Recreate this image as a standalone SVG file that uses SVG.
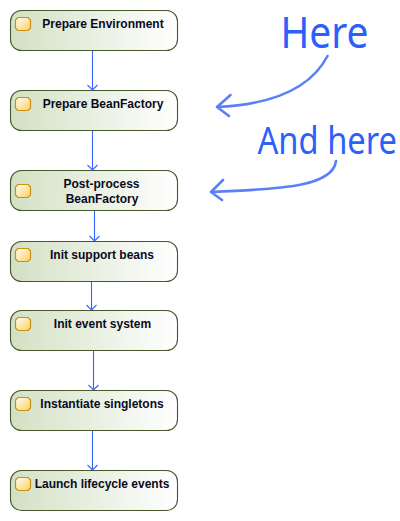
<svg xmlns="http://www.w3.org/2000/svg" width="400" height="521" viewBox="0 0 400 521">
<style>
.box{fill:url(#g);stroke:#46582c;stroke-width:1.1}
.ic{fill:url(#y);stroke:#c8920f;stroke-width:1.2}
.t{font:bold 12px "Liberation Sans",Arial,sans-serif;fill:#0a0a1e;text-anchor:middle}
.c{stroke:#3366ff;stroke-width:1.1;fill:none}
.h{font-family:"Noto Sans","Open Sans",sans-serif;fill:#2c60fa}
.s{stroke:#5a80f8;stroke-width:2.6;fill:none;stroke-linecap:round;stroke-linejoin:round}
</style>
<defs>
<linearGradient id="g" x1="0" x2="1" y1="0" y2="0"><stop offset="0" stop-color="#d3e0c4"/><stop offset="1" stop-color="#ffffff"/></linearGradient>
<linearGradient id="y" x1="0" x2="1" y1="0" y2="1"><stop offset="0" stop-color="#fffef5"/><stop offset="1" stop-color="#fdd063"/></linearGradient>
</defs>
<g id="connectors">
<path class="c" d="M92.500 50.500V90"/>
<path class="c" d="M92.500 130.500V170"/>
<path class="c" d="M94.500 210.500V241"/>
<path class="c" d="M91.500 281.500V310"/>
<path class="c" d="M93.500 350.500V390"/>
<path class="c" d="M92.500 430.500V470"/>
<path class="c" d="M87.500 85L92.500 90L97.500 85M87.500 165L92.500 170L97.500 165M89.500 236L94.500 241L99.500 236M86.500 305L91.500 310L96.500 305M88.500 385L93.500 390L98.500 385M87.500 465L92.500 470L97.500 465"/>
</g>
<g id="n1"><rect class="box" x="10.500" y="10.500" width="167" height="40" rx="11"/><path class="ic" d="M18 17.500H28L30.500 20V28L28 30.500H18L15.500 28V20Z"/><text class="t" x="103" y="28">Prepare Environment</text></g>
<g id="n2"><rect class="box" x="10.500" y="90.500" width="167" height="40" rx="11"/><path class="ic" d="M18 97.500H28L30.500 100V108L28 110.500H18L15.500 108V100Z"/><text class="t" x="103" y="108">Prepare BeanFactory</text></g>
<g id="n3"><rect class="box" x="10.500" y="170.500" width="167" height="40" rx="11"/><path class="ic" d="M18 184.500H28L30.500 187V195L28 197.500H18L15.500 195V187Z"/><text class="t" x="101.500" y="188">Post-process</text><text class="t" x="102" y="203">BeanFactory</text></g>
<g id="n4"><rect class="box" x="10.500" y="241.500" width="167" height="40" rx="11"/><path class="ic" d="M18 248.500H28L30.500 251V259L28 261.500H18L15.500 259V251Z"/><text class="t" x="102" y="259">Init support beans</text></g>
<g id="n5"><rect class="box" x="10.500" y="310.500" width="167" height="40" rx="11"/><path class="ic" d="M18 317.500H28L30.500 320V328L28 330.500H18L15.500 328V320Z"/><text class="t" x="102.500" y="328">Init event system</text></g>
<g id="n6"><rect class="box" x="10.500" y="390.500" width="167" height="40" rx="11"/><path class="ic" d="M18 397.500H28L30.500 400V408L28 410.500H18L15.500 408V400Z"/><text class="t" x="102" y="408">Instantiate singletons</text></g>
<g id="n7"><rect class="box" x="10.500" y="470.500" width="167" height="40" rx="11"/><path class="ic" d="M18 477.500H28L30.500 480V488L28 490.500H18L15.500 488V480Z"/><text class="t" x="102" y="488">Launch lifecycle events</text></g>
<g id="notes">
<text class="h" transform="translate(280.500,48) scale(0.905,1)" font-size="43">Here</text>
<text class="h" transform="translate(257.500,153.500) scale(0.86,1)" font-size="38">And here</text>
<path class="s" d="M327.500 56C314 82 283 104 217 107M230.500 95L217 107L229 116"/>
<path class="s" d="M336 161C333 186 285 189 211 192M223 180L211 192L222 200"/>
</g>
</svg>
